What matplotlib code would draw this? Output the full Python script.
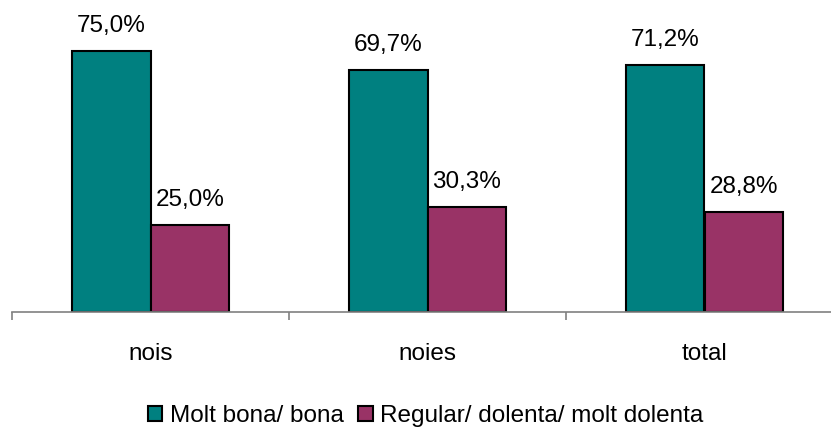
import numpy as np
import matplotlib.pyplot as plt
from matplotlib.patches import Patch

plt.rcParams['font.family'] = ['Liberation Sans', 'DejaVu Sans']

#=====================
# DATA
#=====================
categories = ['nois', 'noies', 'total']
series_names = ['Molt bona/ bona', 'Regular/ dolenta/ molt dolenta']
good_vals = [75.0, 69.7, 71.2]
bad_vals = [25.0, 30.3, 28.8]
colors = ['#008080', '#993366']

W, H = 831, 428
fig = plt.figure(figsize=(W / 100, H / 100), dpi=100)
# axis spans from x=12px to past the right edge, baseline at y=312px
ax = fig.add_axes([12 / W, (H - 312) / H, 831 / W, 278 / H])

x = np.arange(len(categories))
bw = 0.285
fs = 17.5

for i, (vals, col) in enumerate(zip([good_vals, bad_vals], colors)):
    pos = x + (i - 0.5) * bw
    ax.bar(pos, vals, width=bw, color=col, edgecolor='black', linewidth=1.5)
    for p, v in zip(pos, vals):
        ax.annotate(f'{v:.1f}%'.replace('.', ','), (p, v), xytext=(0, 10),
                    textcoords='offset points', ha='center', va='bottom',
                    fontsize=fs)

ax.set_xlim(-0.5, 2.5)
ax.set_ylim(0, 80)
ax.set_yticks([])
for s in ['left', 'top', 'right']:
    ax.spines[s].set_visible(False)
ax.spines['bottom'].set_color('#808080')
ax.spines['bottom'].set_linewidth(1.2)

ax.set_xticks(x)
ax.set_xticklabels(categories, fontsize=fs)
ax.tick_params(axis='x', which='major', length=0, pad=22)
ax.set_xticks([-0.5, 0.5, 1.5, 2.5], minor=True)
ax.tick_params(axis='x', which='minor', length=6, width=1.2, color='#808080',
               direction='out')

handles = [Patch(facecolor=c, edgecolor='black', linewidth=1.5) for c in colors]
fig.legend(handles, series_names, loc='center', ncol=2, frameon=False,
           fontsize=fs, handlelength=0.6, handleheight=0.6, handletextpad=0.3,
           columnspacing=0.6, bbox_to_anchor=(425.5 / W, 1 - 416 / H))

fig.savefig('out.png', dpi=100)
